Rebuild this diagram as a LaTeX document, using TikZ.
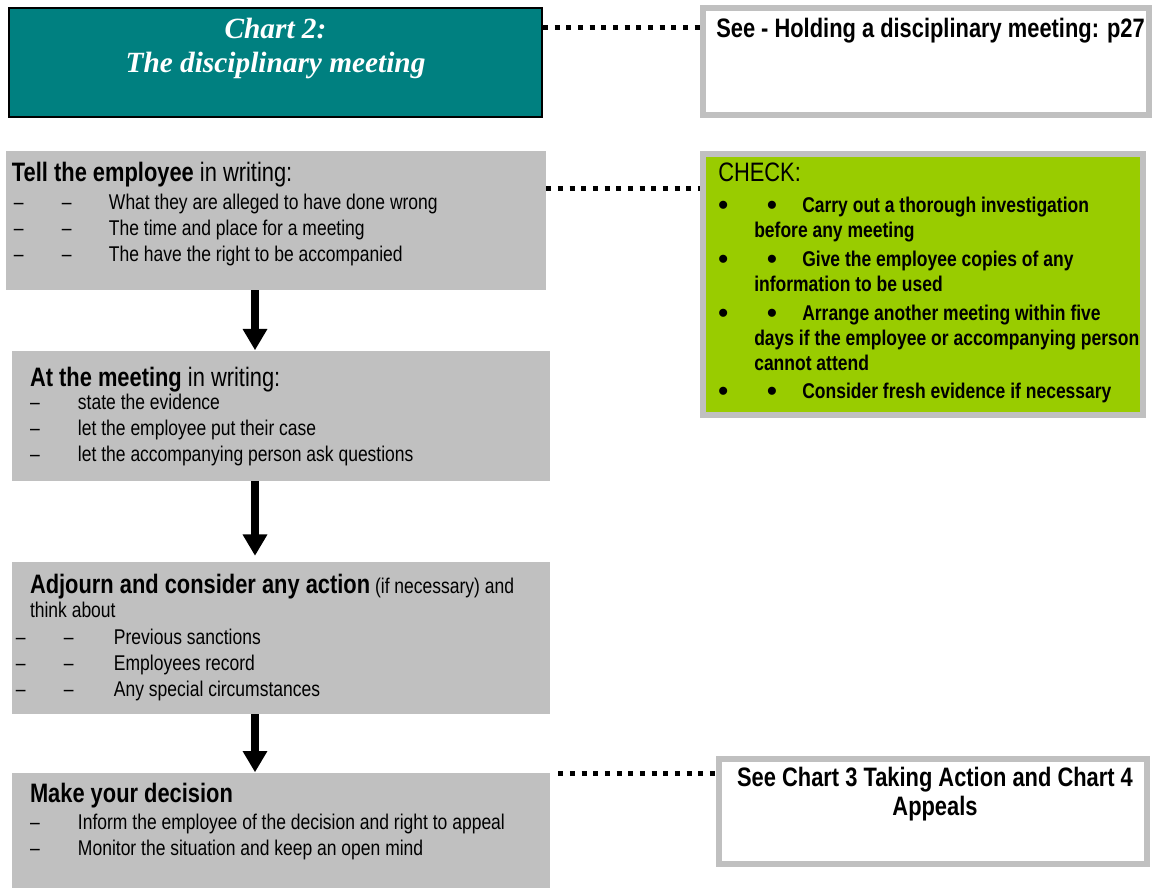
\documentclass[tikz,border=0pt]{standalone}
\usepackage{fontspec}
\setmainfont{Liberation Sans}[FakeStretch=0.82]
\newfontfamily\titlefont{Liberation Serif}
\newfontfamily\bulletfont{Liberation Sans}
\usepackage{tikz}
\usetikzlibrary{arrows.meta,positioning}
\definecolor{chartteal}{HTML}{008080}
\definecolor{boxgray}{HTML}{C0C0C0}
\definecolor{checkgreen}{HTML}{99CC00}
\newcommand{\onedash}[1]{\makebox[36pt][l]{–}#1}
\newcommand{\dashdash}[2][35.25pt]{\makebox[36pt][l]{–}\makebox[#1][l]{–}#2}
\newcommand{\bigdot}{\raisebox{-1.5pt}{\bulletfont\fontsize{21}{0}\selectfont •}}
\newcommand{\twobullet}[1]{\makebox[36.75pt][l]{\bigdot}\makebox[26.25pt][l]{\bigdot}#1}
\newcommand{\contline}[1]{\hspace*{27pt}#1}
\newcommand{\headfont}{\fontsize{20}{24}\selectfont}

\begin{document}
\begin{tikzpicture}[x=0.75pt,y=-0.75pt,% one unit is one pixel of the chart
			every node/.style={inner sep=0pt},
			grey/.style={rectangle,fill=boxgray},			% plain step boxes
			frame/.style={rectangle,draw=boxgray,line width=4.5pt},	% boxes with the wide grey rim
			txt/.style={anchor=north west,align=left,font=\fontsize{16}{19.5}\selectfont},
			flow/.style={draw,line width=6pt,-{Triangle[width=17.5pt,length=16pt]}},
			link/.style={draw,line width=3.75pt,dash pattern=on 3.75pt off 5pt}
		]
		\useasboundingbox (0,0) rectangle (1152,888);
		% boxes
		\node[rectangle,draw=black,line width=1.5pt,fill=chartteal,minimum width=399.75pt,minimum height=81.75pt](Title) at (275.5,62.5){};
		\node[frame,minimum width=334.5pt,minimum height=80.25pt](Ref27) at (926,61.5){};
		\node[grey,minimum width=405pt,minimum height=104.25pt](Tell) at (276,220.5){};
		\node[frame,fill=checkgreen,minimum width=330pt,minimum height=195.75pt](Check) at (923,284.5){};
		\node[grey,minimum width=403.5pt,minimum height=97.5pt](Meet)[below=45pt of Tell,xshift=3.75pt]{};
		\node[grey,minimum width=403.5pt,minimum height=114pt](Adjourn)[below=60.75pt of Meet]{};
		\node[grey,minimum width=403.5pt,minimum height=87.75pt](Decide)[below=43.5pt of Adjourn]{};
		\node[frame,minimum width=321pt,minimum height=78.75pt](RefCharts) at (933,811.5){};
		% texts
		\node[align=center,text=white,font=\titlefont\bfseries\itshape\fontsize{22}{25.5}\selectfont](TitleTxt)[below=8pt of Title.north]{Chart 2:\\The disciplinary meeting};
		\node[txt,font=\fontsize{20}{24}\selectfont\bfseries](Ref27Txt)[below right=9.75pt and 12pt of Ref27.north west]{See - Holding a disciplinary meeting: p27};
		\node[txt](TellTxt)[below right=8.25pt and 4.5pt of Tell.north west]{%
			{\headfont\textbf{Tell the employee} in writing:}\\[1.5pt]
			\hspace*{1.5pt}\dashdash{What they are alleged to have done wrong}\\
			\hspace*{1.5pt}\dashdash{The time and place for a meeting}\\
			\hspace*{1.5pt}\dashdash{The have the right to be accompanied}};
		\node[txt,font=\fontsize{16}{18.75}\selectfont\bfseries](CheckTxt)[below right=9pt and 13.5pt of Check.north west]{%
			{\headfont\mdseries CHECK:}\\[4.5pt]
			\twobullet{Carry out a thorough investigation}\\
			\contline{before any meeting}\\[3pt]
			\twobullet{Give the employee copies of any}\\
			\contline{information to be used}\\[3pt]
			\twobullet{Arrange another meeting within five}\\
			\contline{days if the employee or accompanying person}\\
			\contline{cannot attend}\\[2.25pt]
			\twobullet{Consider fresh evidence if necessary}};
		\node[txt](MeetTxt)[below right=12.75pt and 13.5pt of Meet.north west]{%
			{\headfont\textbf{At the meeting} in writing:}\\[-2.25pt]
			\onedash{state the evidence}\\
			\onedash{let the employee put their case}\\
			\onedash{let the accompanying person ask questions}};
		\node[txt](AdjournTxt)[below right=9pt and 3pt of Adjourn.north west]{%
			\hspace*{10.5pt}{\headfont\textbf{Adjourn and consider any action}} (if necessary) and\\[-1.5pt]
			\hspace*{10.5pt}think about\\[0.75pt]
			\dashdash[37.5pt]{Previous sanctions}\\
			\dashdash[37.5pt]{Employees record}\\
			\dashdash[37.5pt]{Any special circumstances}};
		\node[txt](DecideTxt)[below right=8.25pt and 13.5pt of Decide.north west]{%
			{\headfont\textbf{Make your decision}}\\[0.75pt]
			\onedash{Inform the employee of the decision and right to appeal}\\
			\onedash{Monitor the situation and keep an open mind}};
		\node[align=center,font=\fontsize{20}{21.75}\selectfont\bfseries](RefChartsTxt)[below=8.25pt of RefCharts.north,xshift=1.5pt]{See Chart 3 Taking Action and Chart 4\\Appeals};
		% connectors
		\coordinate (AX) at (255,0);
		\coordinate (L1) at (0,28);
		\coordinate (L2) at (0,188);
		\coordinate (L3) at (0,773);
		\path
		(Tell.south -| AX)edge [flow] (Meet.north -| AX)
		(Meet.south -| AX)edge [flow,shorten >=4.5pt] (Adjourn.north -| AX)
		(Adjourn.south -| AX)edge [flow] (Decide.north -| AX)
		(Title.east |- L1)edge [link] (Ref27.west |- L1)
		(Tell.east |- L2)edge [link] (Check.west |- L2)
		(Decide.east |- L3)edge [link,shorten <=6pt] (RefCharts.west |- L3)
		;
	\end{tikzpicture}
\end{document}
